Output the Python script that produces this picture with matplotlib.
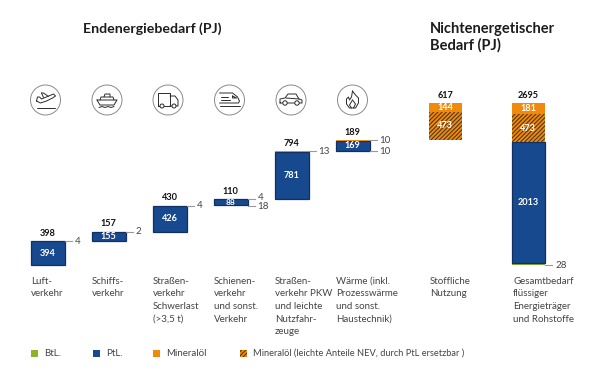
import numpy as np
import matplotlib
matplotlib.use("Agg")
import matplotlib.pyplot as plt
from matplotlib.patches import Circle, Rectangle

# === DATA (PJ) ===
sectors = ["Luft-\nverkehr", "Schiffs-\nverkehr", "Straßen-\nverkehr\nSchwerlast\n(>3,5 t)",
           "Schienen-\nverkehr\nund sonst.\nVerkehr", "Straßen-\nverkehr PKW\nund leichte\nNutzfahr-\nzeuge",
           "Wärme (inkl.\nProzesswärme\nund sonst.\nHaustechnik)", "Stoffliche\nNutzung",
           "Gesamtbedarf\nflüssiger\nEnergieträger\nund Rohstoffe"]
btl = [0, 0, 0, 18, 0, 10, 0, 28]
ptl = [394, 155, 426, 88, 781, 169, 0, 2013]
mineral_nev = [0, 0, 0, 0, 0, 0, 473, 473]
mineral = [4, 2, 4, 4, 13, 10, 144, 181]
totals = [398, 157, 430, 110, 794, 189, 617, 2695]
legend_labels = ["BtL.", "PtL.", "Mineralöl", "Mineralöl (leichte Anteile NEV, durch PtL ersetzbar )"]

# === STYLE ===
GREEN = "#8DB32B"
BLUE = "#17498F"
NAVY = "#12305F"
ORANGE = "#F08A0C"
HATCH = "#4A3214"
TXT = "#444444"
plt.rcParams["font.family"] = ["Lato", "DejaVu Sans"]
plt.rcParams["hatch.linewidth"] = 0.75
plt.rcParams["hatch.color"] = HATCH

x_left = [31, 92, 153, 214, 275, 336, 428.5, 511.5]
text_x = [31, 92, 153, 214, 275, 336, 430, 513]
BAR_W = 33.5
PX_PER_PJ = 0.0601
ZERO_PX = 265
LABEL_FS = 7.0
NUM_FS = 6.6

fig = plt.figure(figsize=(6, 3.78), dpi=100)
ax = fig.add_axes([0, 0, 1, 1])
ax.set_xlim(0, 600)
ax.set_ylim((ZERO_PX - 378) / PX_PER_PJ, ZERO_PX / PX_PER_PJ)
ax.axis("off")

# overlay in pixels for text and pictograms
ov = fig.add_axes([0, 0, 1, 1])
ov.set_xlim(0, 600)
ov.set_ylim(378, 0)
ov.axis("off")
ov.patch.set_alpha(0)

# === BARS ===
starts = np.concatenate([[0], np.cumsum(totals[:7])[:-1], [0]])
for i, x in enumerate(x_left):
    y = starts[i]
    ax.bar(x, btl[i], BAR_W, bottom=y, align="edge", color=GREEN, lw=0)
    y += btl[i]
    if ptl[i]:
        ax.bar(x, ptl[i], BAR_W, bottom=y, align="edge", color=BLUE, edgecolor=NAVY, lw=0.9)
        h = ptl[i] * PX_PER_PJ
        ov.text(x + BAR_W / 2, ZERO_PX - (y + ptl[i] / 2) * PX_PER_PJ, str(ptl[i]), color="white",
                ha="center", va="center", fontsize=NUM_FS if h > 6 else 6.0, fontweight="bold")
    y += ptl[i]
    if mineral_nev[i]:
        ax.bar(x, mineral_nev[i], BAR_W, bottom=y, align="edge", color=ORANGE, hatch="////////", lw=0)
        ov.text(x + BAR_W / 2, ZERO_PX - (y + mineral_nev[i] / 2) * PX_PER_PJ, str(mineral_nev[i]),
                color="white", ha="center", va="center", fontsize=NUM_FS, fontweight="bold")
    y += mineral_nev[i]
    ax.bar(x, mineral[i], BAR_W, bottom=y, align="edge", color=ORANGE, lw=0)
    if mineral[i] > 100:
        ov.text(x + BAR_W / 2, ZERO_PX - (y + mineral[i] / 2) * PX_PER_PJ, str(mineral[i]),
                color="white", ha="center", va="center", fontsize=NUM_FS, fontweight="bold")
    y += mineral[i]
    ov.text(x + BAR_W / 2, ZERO_PX - y * PX_PER_PJ - 8, str(totals[i]), color="#111111",
            ha="center", va="center", fontsize=NUM_FS, fontweight="bold")

    # small shares with leader lines
    if mineral[i] < 100:
        ax.plot([x + BAR_W, x + BAR_W + 7], [y, y], color="#999999", lw=0.8)
        ov.text(x + BAR_W + 10, ZERO_PX - y * PX_PER_PJ - (2 if i == 3 else 0), str(mineral[i]), color=TXT,
                ha="left", va="center", fontsize=LABEL_FS)
    if btl[i]:
        low = starts[i]
        ax.plot([x + BAR_W, x + BAR_W + 7], [low, low], color="#999999", lw=0.8)
        ov.text(x + BAR_W + 10, ZERO_PX - low * PX_PER_PJ + (1 if i == 3 else 0), str(btl[i]), color=TXT,
                ha="left", va="center", fontsize=LABEL_FS)

# === TEXT ===
ov.text(83, 29, "Endenergiebedarf (PJ)", fontsize=10.2, fontweight="bold", color="#1c1c1c",
        ha="left", va="center")
ov.text(430, 29, "Nichtenergetischer", fontsize=10.5, fontweight="bold", color="#1c1c1c",
        ha="left", va="center")
ov.text(430, 45, "Bedarf (PJ)", fontsize=10.5, fontweight="bold", color="#1c1c1c",
        ha="left", va="center")

for x, label in zip(text_x, sectors):
    for k, line_txt in enumerate(label.split("\n")):
        ov.text(x, 281 + k * 12.7, line_txt, fontsize=LABEL_FS, color=TXT, ha="left", va="center")

# === LEGEND ===
leg_x = [31, 93, 153, 240]
leg_fill = [GREEN, BLUE, ORANGE, ORANGE]
leg_fs = [LABEL_FS, LABEL_FS, LABEL_FS, 6.65]
for j, x in enumerate(leg_x):
    ov.add_patch(Rectangle((x, 349.5), 7, 7, facecolor=leg_fill[j], lw=0,
                           hatch="////////" if j == 3 else None))
    ov.text(x + 13, 353, legend_labels[j], fontsize=leg_fs[j], color=TXT, ha="left", va="center")

# === PICTOGRAMS ===
INK = "#2b2b2b"
cx = [45.5, 107, 168, 229.5, 291, 352.5]
CY = 100
for c in cx:
    ov.add_patch(Circle((c, CY), 15, facecolor="white", edgecolor="#8a8a8a", lw=0.7))

def line(x0, pts, lw=0.7):
    arr = np.array(pts, dtype=float)
    ov.plot(x0 + arr[:, 0], CY + arr[:, 1], color=INK, lw=lw, solid_capstyle="round")

# plane
line(cx[0], [(-9, 8), (9, 8)])
line(cx[0], [(-9, 1), (-8, -3), (-6, -3), (-4, -1), (8, -6), (10, -4), (7, -2), (1, 1), (-5, 3), (-9, 1)])
line(cx[0], [(-4, -7), (-2, -7), (3, -3.5)])
line(cx[0], [(-4, -7), (-2, -2.5)])
# ship
line(cx[1], [(-10, 0), (10, 0), (7, 5), (-7, 5), (-10, 0)])
line(cx[1], [(-7, 0), (-6, -3), (6, -3), (7, 0)])
line(cx[1], [(-3, -3), (-2, -6), (3, -6), (3, -3)])
line(cx[1], [(-8, 7.5), (-5, 6.5), (-2, 7.5), (1, 6.5), (4, 7.5), (7, 6.5)])
# truck
line(cx[2], [(-10, 6), (-10, -7), (2, -7), (2, 6), (-10, 6)])
line(cx[2], [(2, -4), (7, -4), (10, 0), (10, 6), (2, 6)])
ov.add_patch(Circle((cx[2] - 6, CY + 6), 2, facecolor="white", edgecolor=INK, lw=0.7, zorder=3))
ov.add_patch(Circle((cx[2] + 6, CY + 6), 2, facecolor="white", edgecolor=INK, lw=0.7, zorder=3))
# train
line(cx[3], [(-10, -7), (3, -7), (8, -3), (10, 1), (9, 3), (-10, 3)])
line(cx[3], [(-10, 6), (10, 6)])
line(cx[3], [(-9, -3), (-2, -3)])
line(cx[3], [(-9, 0), (0, 0)])
line(cx[3], [(3, -4), (7, -2), (3, -2), (3, -4)])
# car
line(cx[4], [(-11, 3), (-11, -1), (-6, -2), (-3, -6), (5, -6), (8, -1), (11, 0), (11, 3), (-11, 3)])
line(cx[4], [(-5, -2), (8, -1)])
ov.add_patch(Circle((cx[4] - 6, CY + 3), 2.2, facecolor="white", edgecolor=INK, lw=0.7, zorder=3))
ov.add_patch(Circle((cx[4] + 6, CY + 3), 2.2, facecolor="white", edgecolor=INK, lw=0.7, zorder=3))
# flame
line(cx[5], [(0, -9), (3, -5), (6, -2), (6, 3), (3, 8), (-3, 8), (-6, 4), (-6, -1), (-4, -3), (-3, 0), (-1, -3), (0, -9)])
line(cx[5], [(0, 0), (3, 4), (1, 8)])
line(cx[5], [(0, 0), (-3, 5), (-1, 8)])

fig.savefig("out.png", dpi=100, facecolor="white")
